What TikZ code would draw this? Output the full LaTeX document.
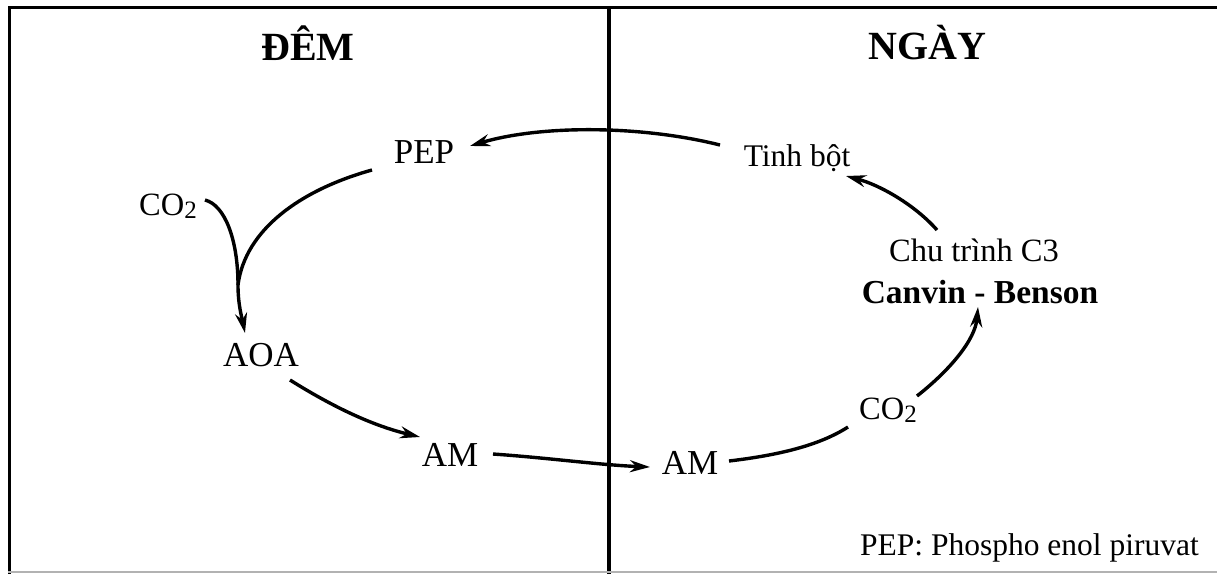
\documentclass[tikz,border=0pt]{standalone}
\usepackage{fontspec}
\setmainfont{Liberation Serif}
\usetikzlibrary{arrows.meta,calc}
\newcommand{\cotwo}{CO{\fontsize{25}{25}\selectfont\raisebox{-3pt}{2}}}
\begin{document}
\begin{tikzpicture}[x=1pt,y=1pt,
  title/.style={font=\fontsize{40}{44}\selectfont\bfseries, inner sep=2pt},
  lbl/.style={font=\fontsize{31.5}{36}\selectfont, inner sep=2pt},
  biglbl/.style={font=\fontsize{35}{40}\selectfont, inner sep=2pt},
  midlbl/.style={font=\fontsize{32.5}{38}\selectfont, inner sep=2pt},
  blbl/.style={font=\fontsize{33.5}{38}\selectfont\bfseries, inner sep=2pt},
  frameline/.style={line width=3pt, black},
  flow/.style={line width=3.4pt, black, -{Stealth[length=20pt,width=12pt]}},
  plain/.style={line width=3.4pt, black}]
\useasboundingbox (0,0) rectangle (1217,-574);
% frame
\draw[frameline] (8,-7) -- (1217,-7);
\draw[frameline] (9,-7) -- (9,-574);
\draw[line width=4.5pt] (609,-7) -- (609,-574);
\draw[gray!60, line width=1.5pt] (8,-572) -- (1217,-572);
% titles
\node[title] (dem) at (308,-43) {ĐÊM};
\node[title] (ngay) at (927,-43) {NGÀY};
% labels
\node[biglbl] (pep) at (424,-152) {PEP};
\node[midlbl] (co2l) at (168,-206) {\cotwo};
\node[biglbl] (aoa) at (261,-355) {AOA};
\node[biglbl] (am1) at (450,-455) {AM};
\node[biglbl] (am2) at (690,-463) {AM};
\node[midlbl] (co2r) at (888,-410) {\cotwo};
\node[midlbl] (chu) at (974,-250) {Chu trình C3};
\node[blbl] (canvin) at (980,-292) {Canvin - Benson};
\node[lbl] (tinh) at (797,-158) {Tinh bột};
\node[lbl, anchor=east] (note) at (1201,-548) {PEP: Phospho enol piruvat};
\coordinate (j) at (238,-285);
% connectors
\draw[flow] ($(tinh)+(-77,13)$) .. controls (640,-125) and (540,-125) .. ($(pep)+(46,6)$);
\draw[plain] ($(pep)+(-52,-18)$) .. controls (300,-190) and (245,-230) .. (j);
\draw[plain] ($(co2l)+(37,6)$) .. controls (225,-205) and (238,-240) .. (j);
\draw[flow] (j) .. controls (238,-305) and (242,-318) .. ($(aoa)+(-16,22)$);
\draw[flow] ($(aoa)+(29,-25)$) .. controls (330,-405) and (370,-425) .. ($(am1)+(-30,18)$);
\draw[flow] ($(am1)+(43,1)$) .. controls (550,-458) and (600,-465) .. ($(am2)+(-40,-4)$);
\draw[plain] ($(am2)+(39,2)$) .. controls (780,-455) and (820,-445) .. ($(co2r)+(-40,-17)$);
\draw[flow] ($(co2r)+(29,14)$) .. controls (950,-370) and (975,-340) .. ($(canvin)+(-2,-15)$);
\draw[flow] ($(chu)+(-37,20)$) .. controls (915,-205) and (880,-185) .. ($(tinh)+(49,-18)$);
\end{tikzpicture}
\end{document}
